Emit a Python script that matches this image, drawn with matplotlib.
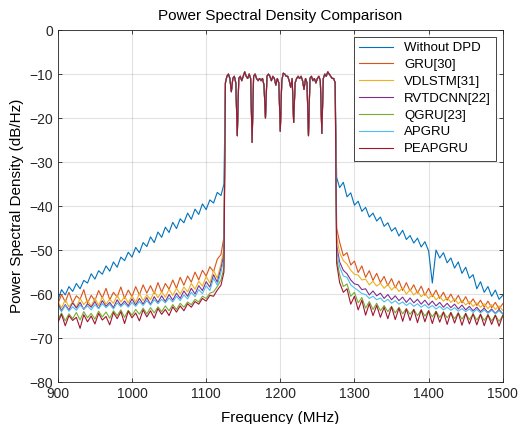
import numpy as np
import matplotlib
matplotlib.use('Agg')
import matplotlib.pyplot as plt

plt.rcParams['font.family'] = ['Liberation Sans', 'DejaVu Sans']

# frequency grids (MHz)
left_freq = np.r_[np.arange(900, 1121, 5), 1124]
inband_freq = np.arange(1126, 1275, 2)
right_freq = np.r_[1276, np.arange(1280, 1501, 5)]

# in-band PSD (dB/Hz), shared by every curve
inband_psd = [-12.0, -10.5, -10.0, -11.0, -14.0, -11.0, -10.5, -12.0, -24.0, -11.0,
              -10.5, -11.5, -10.5, -9.5, -10.5, -11.0, -10.0, -11.0, -25.5, -10.5,
              -10.0, -11.0, -11.5, -11.0, -11.5, -11.0, -12.5, -20.0, -10.5, -10.0,
              -10.5, -11.5, -10.5, -11.0, -12.5, -11.0, -12.0, -23.0, -11.5, -9.8,
              -10.0, -10.5, -10.5, -11.5, -13.0, -11.0, -21.0, -12.0, -11.0, -10.5,
              -11.0, -10.5, -11.5, -13.5, -11.0, -12.0, -24.0, -11.0, -10.5, -11.5,
              -11.0, -12.0, -11.0, -10.5, -11.5, -23.5, -11.0, -10.0, -10.5, -9.5,
              -10.0, -10.5, -11.0, -11.0, -12.0]

# out-of-band PSD per method
nodpd_left = [-61.5, -59.0, -60.2, -58.3, -59.4, -57.6, -58.8, -56.9, -57.5, -55.4,
              -56.6, -54.7, -55.5, -53.6, -54.8, -52.7, -53.9, -51.6, -52.4, -50.5,
              -51.6, -49.4, -50.6, -48.3, -49.2, -47.0, -48.3, -45.9, -47.1, -44.8,
              -46.0, -43.7, -45.1, -42.9, -43.8, -41.6, -43.0, -40.7, -41.9, -39.5,
              -40.8, -38.6, -39.3, -36.9, -37.6, -35.0]
nodpd_right = [-33.5, -35.8, -34.6, -37.9, -37.0, -39.8, -38.9, -41.2, -40.3, -42.5,
               -41.6, -43.4, -42.5, -44.6, -43.8, -45.7, -44.9, -46.8, -45.5, -47.6,
               -46.7, -48.4, -47.3, -49.3, -48.1, -50.2, -57.5, -50.0, -51.8, -50.6,
               -52.9, -51.8, -54.1, -52.7, -55.3, -53.9, -56.4, -55.6, -58.8, -57.2,
               -59.6, -58.3, -60.5, -59.1, -61.2, -60.3]

gru_left = [-62.3, -60.1, -61.8, -59.6, -62.0, -60.4, -61.2, -59.0, -62.1, -60.3,
            -61.5, -59.2, -60.9, -58.7, -61.3, -59.6, -60.7, -58.4, -61.0, -59.1,
            -60.6, -58.3, -60.2, -57.9, -59.8, -58.1, -59.9, -57.4, -59.6, -57.6,
            -58.9, -56.8, -58.7, -56.2, -58.0, -55.9, -57.3, -55.0, -56.8, -54.6,
            -55.9, -53.8, -54.9, -52.1, -51.0, -47.0]
gru_right = [-45.0, -48.2, -51.3, -50.6, -53.4, -52.5, -55.1, -53.6, -56.2, -54.7,
             -56.9, -55.3, -57.4, -56.0, -58.1, -56.5, -58.6, -57.0, -59.2, -57.4,
             -59.3, -57.9, -59.8, -58.2, -60.3, -58.7, -60.6, -59.1, -61.0, -59.6,
             -61.4, -60.0, -61.7, -60.3, -62.0, -60.6, -62.3, -61.1, -62.6, -61.4,
             -63.0, -61.6, -63.1, -61.9, -63.4, -62.2]

vdlstm_left = [-61.6, -63.2, -61.3, -62.9, -61.8, -63.0, -61.0, -62.4, -61.4, -62.8,
               -60.9, -62.6, -60.7, -62.3, -61.2, -62.1, -60.3, -61.8, -60.6, -62.0,
               -60.4, -61.9, -59.9, -61.5, -60.2, -61.3, -59.4, -60.8, -59.5, -60.7,
               -58.9, -60.3, -58.7, -60.0, -58.4, -59.5, -57.6, -58.9, -57.1, -58.2,
               -56.0, -57.5, -54.6, -56.4, -53.2, -49.5]
vdlstm_right = [-47.0, -50.6, -52.4, -53.2, -54.6, -55.5, -55.7, -56.8, -56.6, -57.9,
                -57.1, -58.2, -57.5, -58.7, -57.8, -59.1, -58.2, -59.4, -58.6, -60.0,
                -59.0, -60.2, -59.4, -60.6, -59.8, -61.0, -60.1, -61.3, -60.5, -61.6,
                -60.8, -61.9, -61.1, -62.2, -61.4, -62.5, -61.7, -62.8, -62.0, -63.0,
                -62.2, -63.3, -62.4, -63.5, -62.7, -63.7]

rvtdcnn_left = [-62.1, -63.8, -62.4, -63.6, -62.0, -63.2, -61.9, -63.5, -62.2, -63.0,
                -61.7, -63.3, -61.5, -62.8, -61.9, -63.1, -61.3, -62.6, -61.6, -62.7,
                -61.1, -62.5, -61.0, -62.3, -60.8, -62.4, -60.6, -61.9, -60.4, -61.7,
                -60.1, -61.4, -59.8, -61.0, -59.3, -60.5, -58.7, -60.0, -58.1, -59.2,
                -57.2, -58.4, -55.6, -57.3, -54.1, -51.0]
rvtdcnn_right = [-49.0, -52.7, -54.6, -55.4, -56.8, -57.7, -57.9, -59.0, -58.8, -60.2,
                 -59.3, -60.4, -59.8, -61.0, -60.1, -61.3, -60.4, -61.5, -60.7, -61.9,
                 -60.9, -62.0, -61.2, -62.3, -61.4, -62.5, -61.6, -62.7, -61.9, -63.0,
                 -62.1, -63.1, -62.3, -63.4, -62.5, -63.6, -62.8, -63.8, -63.0, -64.0,
                 -63.2, -64.2, -63.4, -64.4, -63.5, -64.5]

qgru_left = [-65.8, -64.3, -66.1, -64.5, -65.6, -64.2, -65.9, -64.0, -65.4, -64.4,
             -65.7, -63.9, -65.2, -64.1, -65.5, -63.8, -64.9, -63.6, -65.3, -63.7,
             -64.8, -63.5, -64.6, -63.2, -64.5, -63.1, -64.3, -62.9, -64.0, -62.7,
             -63.8, -62.4, -63.5, -62.1, -63.0, -61.8, -62.4, -61.2, -61.8, -60.5,
             -61.0, -59.8, -59.5, -58.3, -56.8, -54.0]
qgru_right = [-52.0, -55.6, -58.3, -57.7, -60.5, -59.6, -62.0, -60.8, -63.2, -61.7,
              -63.5, -62.1, -63.8, -62.6, -64.0, -62.8, -64.3, -63.0, -64.5, -63.3,
              -64.6, -63.5, -64.9, -63.6, -65.0, -63.8, -65.2, -63.9, -65.3, -64.1,
              -65.4, -64.2, -65.6, -64.3, -65.7, -64.4, -65.8, -64.5, -65.9, -64.6,
              -66.0, -64.7, -66.1, -64.8, -66.2, -64.9]

apgru_left = [-62.8, -64.0, -62.6, -63.9, -62.9, -63.7, -62.5, -63.4, -62.7, -63.6,
              -62.4, -63.3, -62.2, -63.1, -62.3, -63.4, -62.0, -62.9, -62.1, -63.0,
              -61.9, -62.8, -61.7, -62.6, -61.5, -62.5, -61.3, -62.2, -61.2, -62.0,
              -60.9, -61.8, -60.5, -61.5, -60.2, -61.1, -59.6, -60.6, -59.0, -59.9,
              -58.1, -59.2, -56.4, -58.0, -55.0, -52.0]
apgru_right = [-50.0, -53.8, -55.9, -56.2, -57.9, -58.6, -59.2, -59.9, -60.1, -61.0,
               -60.5, -61.3, -60.9, -61.8, -61.2, -62.1, -61.5, -62.3, -61.8, -62.6,
               -62.0, -62.8, -62.2, -63.0, -62.4, -63.2, -62.6, -63.4, -62.8, -63.6,
               -63.0, -63.7, -63.1, -63.9, -63.3, -64.0, -63.4, -64.2, -63.5, -64.3,
               -63.6, -64.4, -63.7, -64.5, -63.8, -64.6]

peapgru_left = [-66.5, -64.6, -67.2, -64.9, -66.0, -65.3, -67.8, -64.7, -66.3, -65.0,
                -66.8, -64.4, -65.9, -65.1, -67.0, -64.2, -65.6, -64.0, -66.7, -63.9,
                -65.4, -64.3, -66.1, -63.6, -65.2, -63.8, -65.5, -63.3, -64.6, -63.5,
                -64.9, -62.9, -64.1, -62.7, -63.8, -62.2, -63.0, -61.7, -62.3, -61.0,
                -61.6, -60.3, -60.5, -59.1, -58.0, -55.0]
peapgru_right = [-53.0, -57.4, -59.6, -58.8, -62.3, -60.5, -63.6, -61.4, -64.8, -62.2,
                 -64.9, -62.6, -65.3, -63.0, -65.6, -62.9, -65.8, -63.2, -66.2, -63.4,
                 -66.0, -63.5, -66.5, -63.6, -66.3, -63.8, -66.7, -64.0, -66.4, -64.1,
                 -66.9, -64.2, -66.6, -64.3, -67.1, -64.4, -66.8, -64.5, -67.0, -64.6,
                 -67.2, -64.7, -66.9, -64.8, -67.3, -64.9]

labels = ['Without DPD', 'GRU[30]', 'VDLSTM[31]', 'RVTDCNN[22]', 'QGRU[23]', 'APGRU', 'PEAPGRU']
lefts = [nodpd_left, gru_left, vdlstm_left, rvtdcnn_left, qgru_left, apgru_left, peapgru_left]
rights = [nodpd_right, gru_right, vdlstm_right, rvtdcnn_right, qgru_right, apgru_right, peapgru_right]
# matlab default line colours
colors = ['#0072BD', '#D95319', '#EDB120', '#7E2F8E', '#77AC30', '#4DBEEE', '#A2142F']

freq = np.concatenate([left_freq, inband_freq, right_freq])

fig = plt.figure(figsize=(5.21, 4.24), dpi=100)
ax = fig.add_axes([0.111, 0.099, 0.854, 0.830])

for lab, l, r, c in zip(labels, lefts, rights, colors):
    psd = np.concatenate([l, inband_psd, r])
    ax.plot(freq, psd, color=c, lw=0.8, label=lab)

ax.set_xlim(900, 1500)
ax.set_ylim(-80, 0)
ax.set_xticks(np.arange(900, 1501, 100))
ax.set_yticks(np.arange(-80, 1, 10))
ax.grid(True, color='#262626', alpha=0.13, lw=0.8)
ax.tick_params(direction='in', top=True, right=True, length=3, labelsize=10,
               colors='#262626', width=0.6)
for s in ax.spines.values():
    s.set_color('#262626')
    s.set_linewidth(0.6)

ax.set_title('Power Spectral Density Comparison', fontsize=11, pad=7)
ax.set_xlabel('Frequency (MHz)', fontsize=11, labelpad=7)
ax.set_ylabel('Power Spectral Density (dB/Hz)', fontsize=11, labelpad=4)

leg = ax.legend(loc='upper right', fontsize=9.5, fancybox=False, framealpha=1,
                edgecolor='#262626', borderaxespad=0.5, handlelength=2.6,
                labelspacing=0.35, borderpad=0.4)
leg.get_frame().set_linewidth(0.6)

fig.savefig('out.png', dpi=100)
